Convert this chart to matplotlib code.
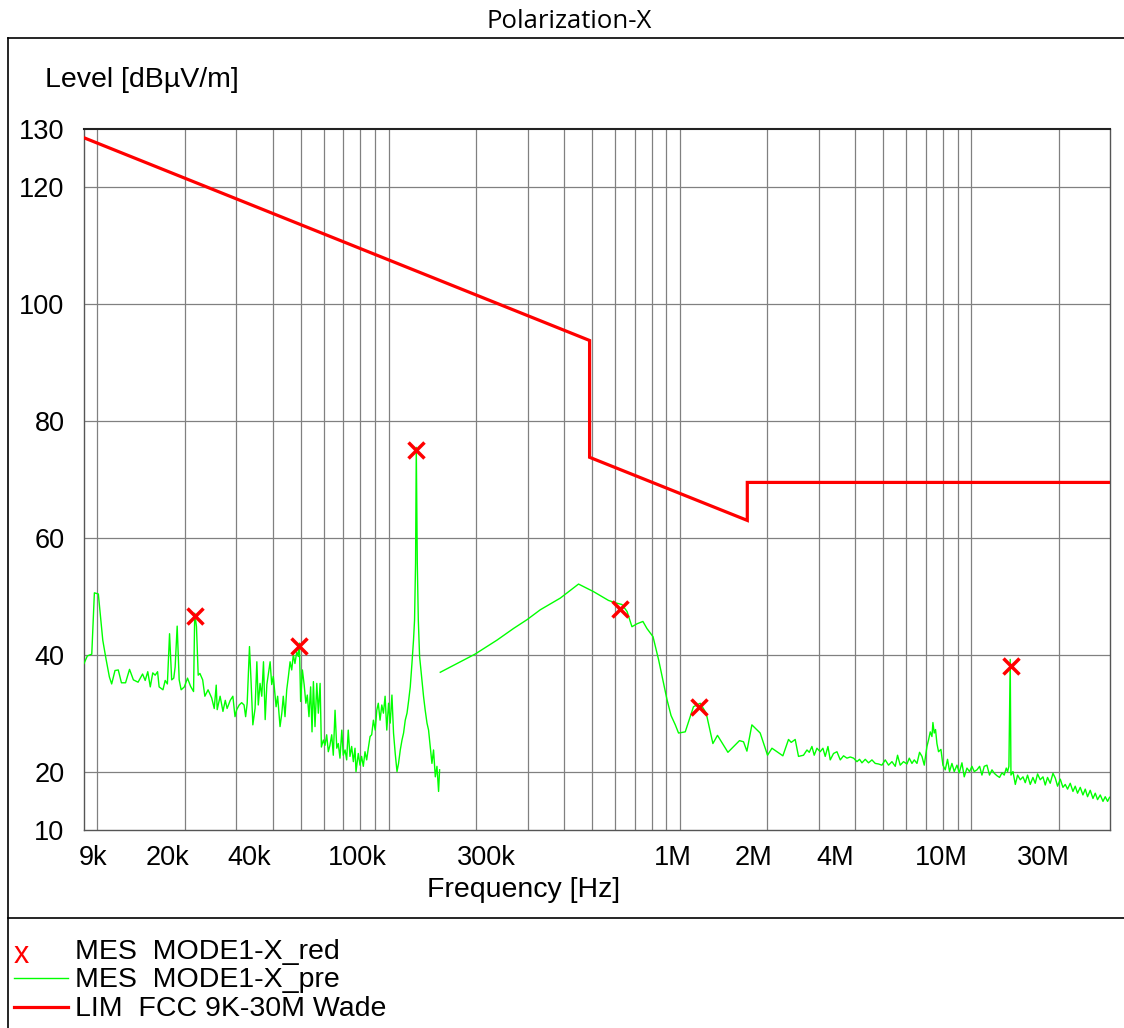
import matplotlib
matplotlib.use("Agg")
import matplotlib.pyplot as plt
from matplotlib.lines import Line2D
from matplotlib.transforms import ScaledTranslation

plt.rcParams['font.family'] = ['Liberation Sans', 'DejaVu Sans']

# ---------------- data ----------------
# pre-scan trace, segment 1 (9 kHz - 150 kHz), frequencies in kHz, level dBuV/m
seg1_khz = [9.0, 9.24, 9.57, 9.77, 10.08, 10.44, 10.7, 11.0, 11.2, 11.5, 11.8, 12.1, 12.5, 12.9,
            13.3, 13.8, 14.3, 14.6, 14.9, 15.2, 15.5, 15.8, 16.1, 16.3, 16.8, 17.1, 17.4, 17.7,
            18.0, 18.3, 18.5, 18.8, 19.1, 19.4, 19.9, 20.4, 20.9, 21.4, 21.6, 21.9, 22.2, 22.5,
            23.0, 23.4, 24.0, 24.7, 25.2, 25.6, 25.8, 26.4, 27.0, 27.5, 27.9, 28.6, 29.2, 29.7,
            30.1, 30.7, 31.3, 31.9, 32.3, 32.7, 33.3, 33.7, 34.2, 34.8, 35.3, 35.7, 36.2, 36.7,
            37.2, 37.7, 38.2, 38.7, 39.2, 39.7, 40.2, 41.1, 41.6, 42.4, 43.0, 43.5, 44.1, 44.7,
            45.3, 45.9, 46.5, 47.1, 47.7, 48.4, 49.0, 49.4, 49.9, 50.6, 51.3, 52.0, 52.6, 53.3,
            54.0, 54.6, 55.2, 55.9, 56.7, 57.4, 58.2, 58.8, 59.7, 60.5, 61.3, 62.1, 62.9, 63.8,
            64.6, 65.5, 66.4, 67.2, 68.1, 69.1, 69.9, 70.9, 71.8, 72.7, 73.7, 74.7, 75.7, 76.7,
            77.3, 78.7, 79.8, 80.8, 81.9, 83.0, 84.1, 85.2, 86.4, 87.5, 88.7, 90.0, 91.1, 92.2,
            93.5, 94.8, 96.0, 97.3, 98.6, 100.0, 101.3, 102.7, 104.0, 105.4, 106.9, 108.2, 109.7,
            111.2, 112.6, 114.1, 115.7, 117.1, 118.7, 120.3, 121.8, 122.8, 123.8, 124.5, 125.5,
            126.5, 127.8, 130.2, 131.9, 133.6, 135.5, 137.2, 139.0, 140.9, 142.7, 144.7, 146.6,
            148.5, 149.7]
seg1_db = [38.5, 39.8, 40.1, 50.6, 50.4, 42.5, 39.4, 36.2, 35.0, 37.3, 37.4, 35.2, 35.2, 37.5,
           35.7, 35.3, 36.7, 35.6, 37.1, 34.5, 36.9, 36.5, 37.1, 34.5, 34.0, 35.6, 35.0, 43.6,
           35.7, 36.0, 37.9, 44.9, 35.7, 34.0, 34.5, 36.0, 34.6, 33.7, 47.1, 44.8, 36.5, 36.8,
           35.7, 32.9, 34.0, 32.6, 30.8, 34.8, 30.6, 32.9, 30.3, 32.2, 30.8, 32.2, 32.9, 29.4,
           30.6, 31.4, 31.8, 31.4, 29.4, 31.7, 41.4, 35.7, 28.0, 30.8, 38.8, 31.4, 35.1, 32.9,
           38.8, 28.9, 34.9, 36.8, 38.8, 34.9, 36.3, 31.1, 32.9, 27.7, 30.0, 32.9, 29.4, 34.0,
           36.3, 38.8, 37.4, 40.0, 38.5, 40.5, 39.7, 42.0, 32.0, 37.4, 34.9, 31.7, 33.1, 29.4,
           34.5, 26.8, 35.4, 27.7, 35.1, 30.0, 35.1, 24.2, 25.4, 24.5, 26.3, 23.4, 24.5, 26.3,
           22.8, 30.5, 24.0, 24.8, 22.3, 27.1, 22.8, 23.7, 22.0, 27.1, 22.6, 24.3, 21.7, 24.0,
           20.0, 23.1, 21.1, 22.6, 20.9, 23.4, 22.0, 24.0, 26.0, 26.3, 28.8, 27.1, 30.5, 31.7,
           28.8, 31.4, 30.0, 32.9, 27.1, 31.7, 28.3, 33.1, 26.6, 23.1, 20.0, 21.4, 23.7,
           25.4, 26.6, 28.8, 30.0, 32.0, 34.5, 38.5, 42.5, 45.9, 55.7, 75.5, 55.7,
           46.0, 39.7, 35.7, 32.8, 30.5, 28.3, 27.1, 24.3, 21.4, 23.7, 19.1, 20.9,
           16.6, 20.3]

# pre-scan trace, segment 2 (150 kHz - 30 MHz), frequencies in kHz
seg2_khz = [150.5, 198, 235.6, 268.6, 298.7, 331.9, 388.8, 449, 505.8, 569, 600.5, 633, 659, 685,
            713, 747, 771, 809, 846, 880, 904, 933, 965, 990, 1044, 1114, 1175, 1232, 1299, 1347,
            1463, 1603, 1655, 1700, 1768, 1888, 2001, 2072, 2155, 2259, 2362, 2413, 2490, 2556,
            2659, 2733, 2783, 2842, 2894, 2957, 3034, 3100, 3157, 3226, 3285, 3372, 3464, 3556,
            3649, 3749, 3848, 3950, 4058, 4142, 4221, 4333, 4446, 4568, 4688, 4812, 4943, 5074,
            5209, 5351, 5492, 5593, 5712, 5863, 6026, 6136, 6268, 6383, 6521, 6656, 6784, 6908,
            7056, 7145, 7243, 7340, 7398, 7474, 7552, 7636, 7734, 7881, 8007, 8154, 8304, 8436,
            8598, 8756, 8946, 9110, 9305, 9476, 9681, 9881, 10070, 10260, 10480, 10700, 10900,
            11100, 11340, 11570, 11800, 12020, 12270, 12530, 12770, 13000, 13210, 13350, 13490,
            13630, 13710, 13930, 14190, 14450, 14760, 15080, 15350, 15630, 15970, 16310, 16610,
            16920, 17280, 17660, 17980, 18310, 18700, 19110, 19460, 19820, 20250, 20680, 21060,
            21450, 21910, 22380, 22790, 23210, 23710, 24220, 24670, 25120, 25660, 26220, 26700,
            27190, 27780, 28380, 28890, 29430, 29900]
seg2_db = [37.0, 40.1, 42.5, 44.5, 46.0, 47.7, 49.7, 52.1, 50.8, 49.3, 48.9, 48.6, 47.4, 44.8,
           45.3, 45.7, 44.5, 43.1, 39.1, 35.1, 32.3, 29.6, 28.0, 26.6, 26.8, 31.1, 31.7, 30.0, 24.8, 26.2,
           23.3, 25.3, 25.1, 23.5, 28.0, 26.6, 22.8, 24.0, 23.4, 22.7, 25.5, 25.0, 25.5, 22.6,
           22.8, 23.7, 23.3, 24.3, 22.8, 24.0, 23.4, 24.0, 22.6, 24.3, 22.0, 23.1, 23.4, 22.0,
           22.7, 22.3, 22.5, 22.3, 21.7, 22.1, 21.5, 22.1, 21.5, 22.0, 21.4, 21.3, 21.1, 22.0,
           21.1, 21.7, 20.9, 22.8, 21.1, 21.7, 21.3, 22.3, 21.4, 22.0, 21.4, 23.3, 22.6, 21.1,
           24.3, 25.4, 26.8, 26.0, 28.4, 26.6, 27.2, 24.8, 23.4, 23.8, 21.1, 20.3, 22.1, 20.0,
           21.4, 20.0, 21.1, 19.8, 21.5, 19.1, 20.6, 20.0, 20.9, 20.0, 20.3, 20.9, 19.4,
           20.9, 21.1, 19.4, 20.3, 19.7, 19.3, 19.0, 19.8, 19.4, 20.6, 20.0, 20.9,
           39.2, 19.4, 20.0, 17.8, 19.4, 18.6, 19.1, 18.1, 19.4, 17.8, 19.0, 18.0,
           19.6, 18.6, 19.1, 17.7, 19.0, 18.0, 19.7, 18.9, 17.5, 18.7, 17.3, 17.8,
           17.0, 18.0, 16.6, 17.5, 16.3, 17.3, 16.0, 17.0, 15.7, 16.8, 15.4, 16.3,
           15.2, 16.0, 14.9, 15.7, 14.9, 15.6]

# final measurement markers (Hz, dBuV/m)
mes_freq = [21.65e3, 49.3e3, 124.5e3, 625e3, 1.168e6, 13.69e6]
mes_db = [46.6, 41.5, 75.0, 47.9, 31.0, 38.1]

# FCC limit line (Hz, dBuV/m)
lim_freq = [9e3, 490e3, 490e3, 1.705e6, 1.705e6, 30e6]
lim_db = [128.5, 93.8, 73.8, 63.0, 69.5, 69.5]

ytick_vals = [10, 20, 40, 60, 80, 100, 120, 130]
xtick_vals = [9e3, 20e3, 40e3, 100e3, 300e3, 1e6, 2e6, 4e6, 10e6, 30e6]
xtick_labels = ['9k', '20k', '40k', '100k', '300k', '1M', '2M', '4M', '10M', '30M']
xlabel_shift_px = [9, -17, -23, -31, -41, -7, -14, -20, -30, -67]
xgrid_vals = [m * d for d in (1e4, 1e5, 1e6) for m in range(1, 10)] + [1e7, 2e7]

legend_entries = ['MES  MODE1-X_red', 'MES  MODE1-X_pre', 'LIM  FCC 9K-30M Wade']

# ---------------- figure ----------------
W, H = 1124, 1028
fig = plt.figure(figsize=(W / 100, H / 100), dpi=100)
ax = fig.add_axes([84 / W, 1 - 830 / H, (1110 - 84) / W, (830 - 129) / H])

ax.set_xscale('log')
ax.set_xlim(9e3, 30e6)
ax.set_ylim(10, 130)

green = '#00ff00'
red = '#ff0000'
ax.plot([f * 1e3 for f in seg1_khz], seg1_db, color=green, lw=1.0, zorder=3)
ax.plot([f * 1e3 for f in seg2_khz], seg2_db, color=green, lw=1.0, zorder=3)
ax.plot(lim_freq, lim_db, color=red, lw=2.3, zorder=4, solid_joinstyle='miter')
ax.plot(mes_freq, mes_db, linestyle='none', marker='x', color=red,
        markersize=11, markeredgewidth=2.5, zorder=5)

# grid
gcol = '#808080'
for v in xgrid_vals:
    ax.axvline(v, color=gcol, lw=0.9, zorder=1)
for v in ytick_vals[1:-1]:
    ax.axhline(v, color=gcol, lw=0.9, zorder=1)

ax.set_yticks(ytick_vals)
ax.set_yticklabels([str(v) for v in ytick_vals])
ax.set_xticks(xtick_vals)
ax.set_xticklabels(xtick_labels)
ax.minorticks_off()
ax.tick_params(axis='both', length=0, labelsize=19.5)
ax.tick_params(axis='y', pad=14)
ax.tick_params(axis='x', pad=11)
for lab, dx in zip(ax.get_xticklabels(), xlabel_shift_px):
    lab.set_transform(lab.get_transform() + ScaledTranslation(dx / 100, 0, fig.dpi_scale_trans))

for s in ax.spines.values():
    s.set_color('#555555')
    s.set_linewidth(1.0)
ax.spines['top'].set_color('#222222')
ax.spines['top'].set_linewidth(1.5)

# axis labels
fig.text(45 / W, 1 - 80 / H, 'Level [dBµV/m]', fontsize=20.5, ha='left', va='center')
fig.text(524 / W, 1 - 890 / H, 'Frequency [Hz]', fontsize=20.5, ha='center', va='center')

# title
fig.text(569 / W, 1 - 21 / H, 'Polarization-X', fontsize=18.5,
         family=['Open Sans', 'DejaVu Sans'], ha='center', va='center')

# outer frame lines
fig.add_artist(Line2D([8 / W, 1], [1 - 38 / H, 1 - 38 / H], color='black', lw=1.2))
fig.add_artist(Line2D([8 / W, 8 / W], [1 - 38 / H, 0], color='black', lw=1.2))
fig.add_artist(Line2D([8 / W, 1], [1 - 918 / H, 1 - 918 / H], color='black', lw=1.2))

# legend area
fig.text(21 / W, 1 - 955 / H, 'x', color=red, fontsize=22, ha='center', va='center')
fig.add_artist(Line2D([14 / W, 68 / W], [1 - 978 / H, 1 - 978 / H], color=green, lw=1.0))
fig.add_artist(Line2D([14 / W, 68 / W], [1 - 1007 / H, 1 - 1007 / H], color=red, lw=2.3))
for txt, yc in zip(legend_entries, [952, 980, 1009]):
    fig.text(75 / W, 1 - yc / H, txt, fontsize=20.5, ha='left', va='center')

fig.savefig('out.png', dpi=100)
